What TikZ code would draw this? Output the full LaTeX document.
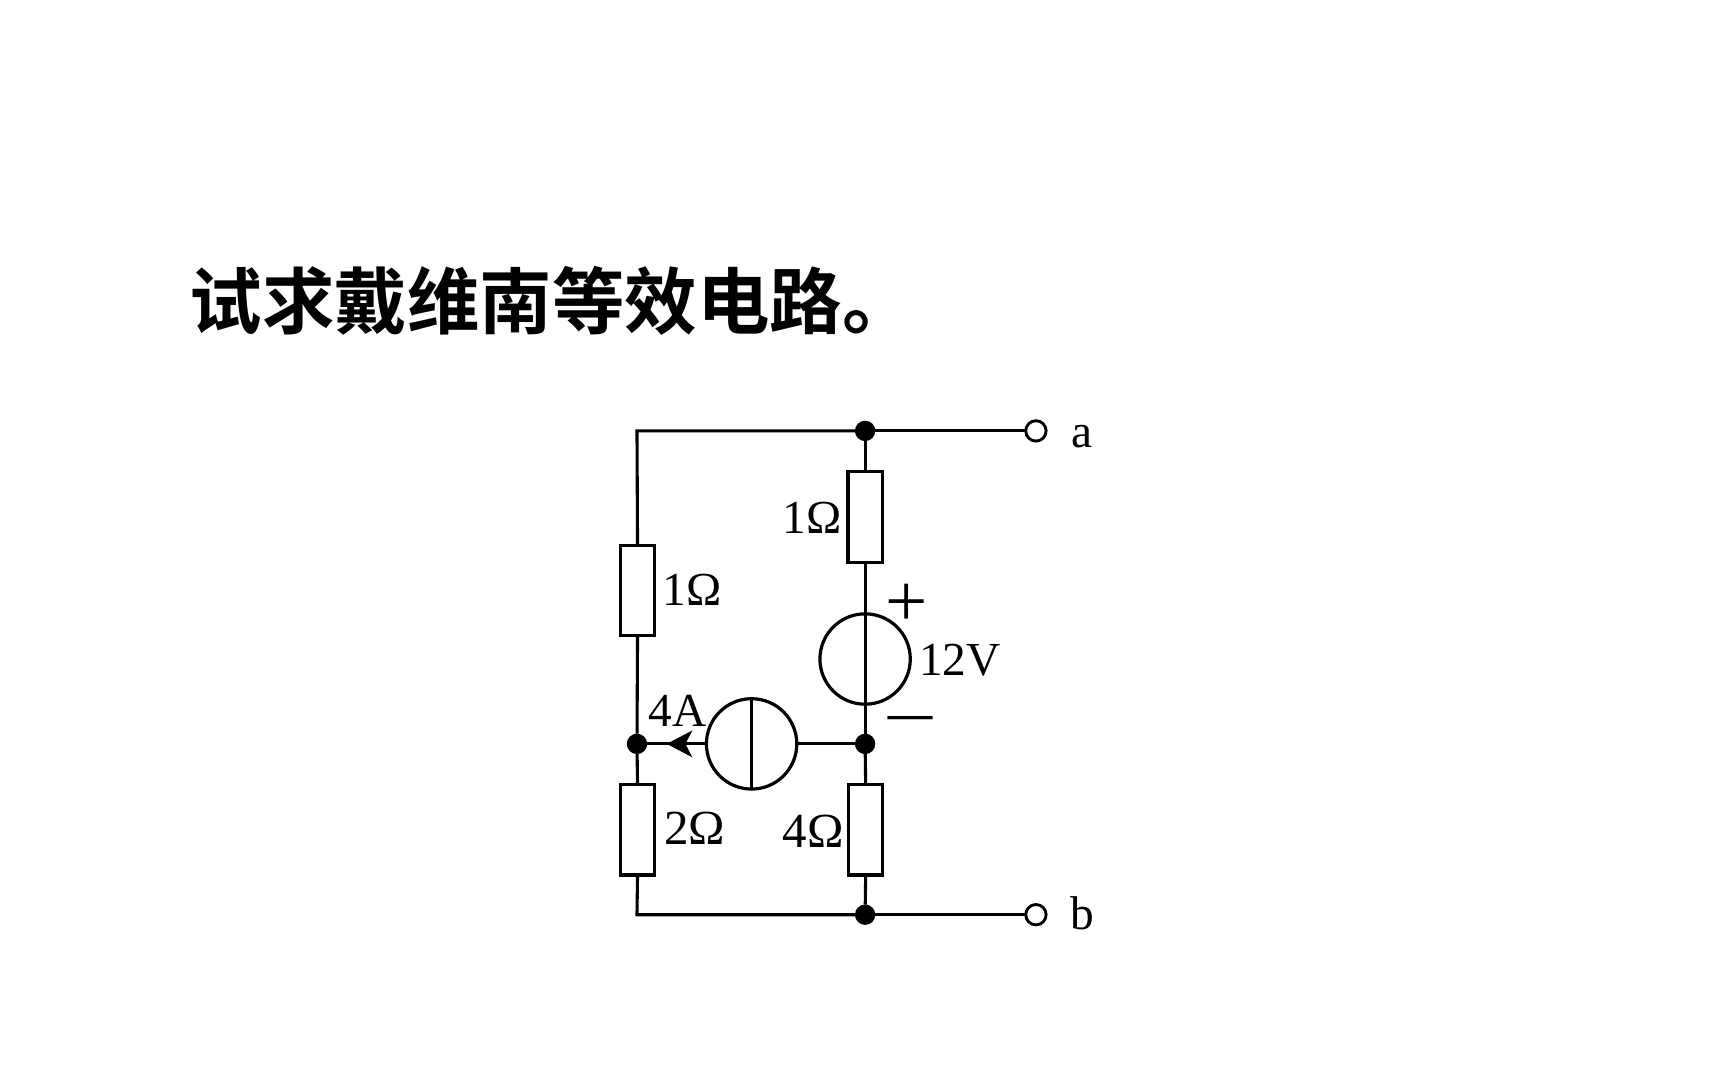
\documentclass[tikz,border=0pt]{standalone}
\usepackage{fontspec}
\usepackage{graphicx}
\setmainfont{Liberation Serif}
\newfontfamily\cjk{Noto Sans CJK SC Bold}
\usetikzlibrary{arrows.meta}
\tikzset{
  wire/.style={line width=2.8pt,black},
  res/.style={draw,line width=2.8pt,rectangle,minimum width=31pt,minimum height=82pt,inner sep=0pt,outer sep=0pt},
  src/.style={draw,line width=2.9pt,circle,minimum size=82pt,inner sep=0pt,outer sep=0pt},
  dot/.style={circle,fill=black,minimum size=18.5pt,inner sep=0pt,outer sep=0pt},
  term/.style={draw,line width=2.6pt,circle,fill=white,minimum size=18.5pt,inner sep=0pt,outer sep=0pt},
  lab/.style={font=\fontsize{43}{43}\selectfont,inner sep=0pt,anchor=center},
  labbig/.style={font=\fontsize{44.5}{44}\selectfont,inner sep=0pt,anchor=center},
}
\begin{document}
\begin{tikzpicture}[x=1pt,y=-1pt]
\useasboundingbox[fill=white] (0,0) rectangle (1568,980);
\node[anchor=west,inner sep=0pt,font=\cjk\fontsize{65.8}{66}\selectfont] (title) at (172,273) {试求戴维南等效电路。};
% junctions
\coordinate (tl) at (578,391);
\coordinate (bl) at (578,830);
\node[dot] (dt) at (785,391) {};
\node[dot] (db) at (785,830) {};
\node[dot] (dl) at (578,675) {};
\node[dot] (dm) at (785,675) {};
\node[term] (ta) at (940,391) {};
\node[term] (tb) at (940,830) {};
% components
\node[res] (r1) at (578.5,536) {};
\node[res] (r2) at (578.5,753) {};
\node[res] (r3) at (785,469) {};
\node[res] (r4) at (785.5,753) {};
\node[src] (vs) at (785,598) {};
\node[src] (cs) at (682,675) {};
\coordinate (atip) at (605,675);
% wires
\draw[wire] (dt) -- (ta);
\draw[wire] (db) -- (tb);
\draw[wire] (dt) -- (tl) -- (r1.north);
\draw[wire] (r1.south) -- (dl);
\draw[wire] (dl) -- (r2.north);
\draw[wire] (r2.south) -- (bl) -- (db);
\draw[wire] (dt) -- (r3.north);
\draw[wire] (r3.south) -- (dm);
\draw[wire] (dm) -- (r4.north);
\draw[wire] (r4.south) -- (db);
\draw[wire] (dm) -- (cs.east);
\draw[wire] (cs.west) -- (dl);
\draw[wire,line width=2.3pt] (cs.north) -- (cs.south);
\draw[wire,-{Stealth[length=23pt,width=24pt,inset=6pt]}] (cs.west) -- (atip);
% labels
\node[lab] (l1) at (628,535) {1Ω};
\node[labbig] (l2) at (630.5,752) {2Ω};
\node[lab] (l3) at (737,470) {1Ω};
\node[labbig] (l4) at (738,754) {4Ω};
\node[lab] (l5) at (871,599) {12V};
\node[lab] (l6) at (615,645) {4A};
\node[lab] (la) at (982,396) {a};
\node[lab] (lb) at (982,829) {b};
\node[inner sep=0pt,font=\fontsize{68}{68}\selectfont] (plus) at (823,549) {+};
\node[inner sep=0pt,font=\fontsize{60}{60}\selectfont] (minus) at (826,658) {\scalebox{1.33}[1]{–}};
\end{tikzpicture}
\end{document}
